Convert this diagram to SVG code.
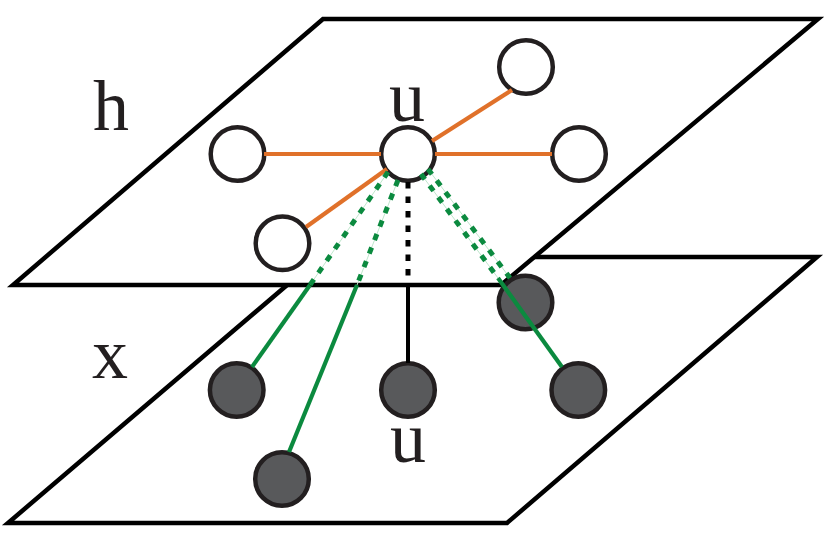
<svg xmlns="http://www.w3.org/2000/svg" width="831" height="541" viewBox="0 0 831 541">
  <style>
    .plane { fill: #ffffff; stroke: #000000; stroke-width: 4.5; stroke-linejoin: miter; }
    .wnode { fill: #ffffff; stroke: #231f20; stroke-width: 4.5; }
    .dnode { fill: #58595b; stroke: #231f20; stroke-width: 4.5; }
    .orange { stroke: #e0712a; stroke-width: 4.2; fill: none; }
    .green { stroke: #0b8a3f; stroke-width: 4.2; fill: none; }
    .gdash { stroke: #0b8a3f; stroke-width: 5; fill: none; stroke-dasharray: 6.5 8; }
    .pale { stroke: #bfe6cc; stroke-width: 1; fill: none; }
    .black { stroke: #000000; stroke-width: 4; fill: none; }
    .bdash { stroke: #000000; stroke-width: 5; fill: none; stroke-dasharray: 6.5 8; }
    .lbl { font-family: "Liberation Serif", "Times New Roman", serif; font-size: 72px; fill: #231f20; text-anchor: middle; }
  </style>
  <g id="planes">
    <polygon id="plane-x" class="plane" points="320,257 817,257 507,523 8,523"/>
    <polygon id="plane-h" class="plane" points="323,19 818,19 501,285 13,285"/>
  </g>
  <g id="labels">
    <text class="lbl" x="111" y="130">h</text>
    <text class="lbl" x="110" y="378">x</text>
  </g>
  <g id="nodes">
    <g id="h-u"><circle class="wnode" cx="408" cy="154" r="26.8"/><text class="lbl" x="407" y="121">u</text></g>
    <g id="h-left"><circle class="wnode" cx="237.5" cy="154" r="26.8"/></g>
    <g id="h-lowerleft"><circle class="wnode" cx="282.5" cy="243.3" r="26.8"/></g>
    <g id="h-topright"><circle class="wnode" cx="526" cy="67" r="26.8"/></g>
    <g id="h-right"><circle class="wnode" cx="579" cy="154" r="26.8"/></g>
    <g id="x-a"><circle class="dnode" cx="525.5" cy="302.5" r="26.8"/></g>
    <g id="x-b"><circle class="dnode" cx="578.3" cy="390" r="26.8"/></g>
    <g id="x-c"><circle class="dnode" cx="236.7" cy="390" r="26.8"/></g>
    <g id="x-d"><circle class="dnode" cx="282" cy="479" r="26.8"/></g>
    <g id="x-u"><circle class="dnode" cx="408" cy="390" r="26.8"/><text class="lbl" x="408" y="462">u</text></g>
  </g>
  <g id="connectors">
    <line class="orange" x1="381" y1="154" x2="264" y2="154"/>
    <line class="orange" x1="435" y1="154" x2="552" y2="154"/>
    <line class="orange" x1="432" y1="141" x2="512" y2="90"/>
    <line class="orange" x1="387" y1="169" x2="306" y2="227"/>

    <line class="pale" x1="388" y1="172" x2="310" y2="285"/>
    <line class="gdash" x1="388" y1="172" x2="310" y2="285"/>
    <line class="green" x1="310" y1="285" x2="252" y2="367"/>

    <line class="pale" x1="398" y1="180" x2="357" y2="285"/>
    <line class="gdash" x1="398" y1="180" x2="357" y2="285"/>
    <line class="green" x1="357" y1="285" x2="289" y2="452"/>

    <line class="bdash" x1="408" y1="182" x2="408" y2="285"/>
    <line class="black" x1="408" y1="285" x2="408" y2="363"/>

    <line class="pale" x1="421" y1="174" x2="498" y2="278"/>
    <line class="gdash" x1="421" y1="174" x2="498" y2="278"/>
    <line class="pale" x1="428" y1="169" x2="510" y2="278"/>
    <line class="gdash" x1="428" y1="169" x2="510" y2="278"/>
    <line class="green" x1="498" y1="278" x2="562" y2="367"/>
  </g>
</svg>
